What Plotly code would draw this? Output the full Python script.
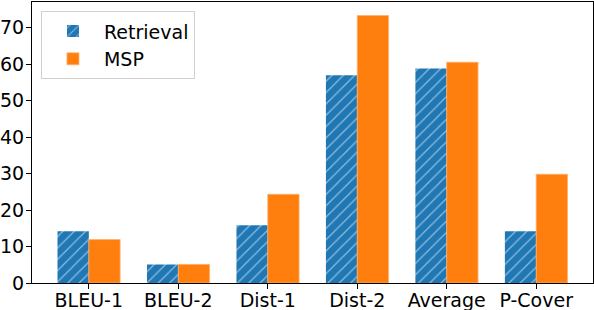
import plotly.graph_objects as go

categories = ["BLEU-1", "BLEU-2", "Dist-1", "Dist-2", "Average", "P-Cover"]
retrieval = [14.2, 5.1, 15.8, 56.9, 58.8, 14.2]
msp = [11.9, 5.1, 24.3, 73.3, 60.5, 29.8]
y_ticks = [0, 10, 20, 30, 40, 50, 60, 70]

BLUE = "#1f77b4"
ORANGE = "#ff7f0e"
FONT = "DejaVu Sans"

fig = go.Figure()
fig.add_trace(go.Bar(
    x=categories, y=retrieval, name="Retrieval",
    marker=dict(color=BLUE, line=dict(width=0),
                pattern=dict(shape="/", fgcolor="white", bgcolor=BLUE, size=8, solidity=0.16)),
))
fig.add_trace(go.Bar(
    x=categories, y=msp, name="MSP",
    marker=dict(color=ORANGE, line=dict(width=0.8, color="#ffb070")),
))

fig.update_layout(
    width=594, height=310,
    margin=dict(l=32, r=1, t=2, b=27),
    paper_bgcolor="white", plot_bgcolor="white",
    barmode="group", bargap=0.3, bargroupgap=0,
    font=dict(family=FONT, size=19, color="black"),
    showlegend=True,
    legend=dict(x=0.016, y=0.967, xanchor="left", yanchor="top",
                bgcolor="rgba(255,255,255,0.8)", bordercolor="#d0d0d0", borderwidth=1,
                font=dict(family=FONT, size=19), itemwidth=52),
    xaxis=dict(type="category", range=[-0.635, 5.635], showgrid=False, automargin=False,
               showline=True, linecolor="black", linewidth=1, mirror=True,
               ticks="outside", ticklen=5, tickcolor="black", tickwidth=1,
               ticklabelstandoff=-5),
    yaxis=dict(range=[0, 77], tickvals=y_ticks, showgrid=False, zeroline=False, automargin=False,
               showline=True, linecolor="black", linewidth=1, mirror=True,
               ticks="outside", ticklen=5, tickcolor="black", tickwidth=1,
               ticklabelstandoff=-2),
)

fig.write_html("out.html", config={"displayModeBar": False},
               post_script="document.body.style.margin='0';document.body.style.overflow='hidden';")
